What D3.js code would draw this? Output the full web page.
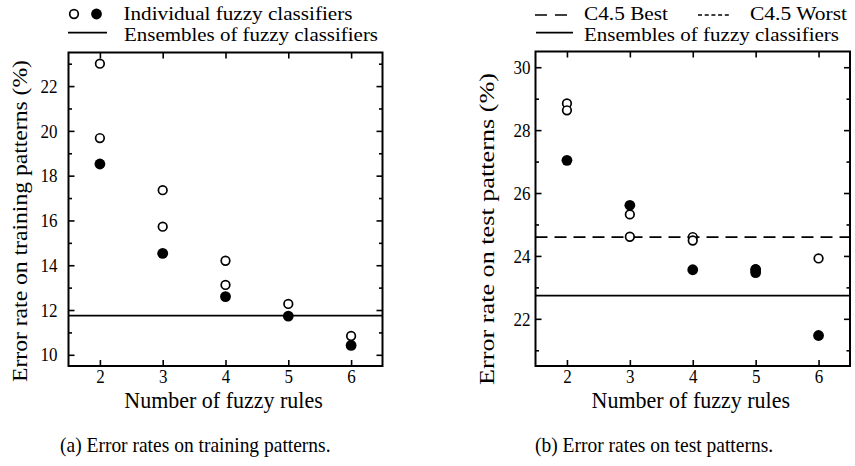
<!DOCTYPE html>
<html><head><meta charset="utf-8">
<script src="https://cdn.jsdelivr.net/npm/d3@7"></script>
<style>body{margin:0;background:#fff}</style></head><body>
<svg id="c" width="855" height="466" xmlns="http://www.w3.org/2000/svg"></svg>
<script>
// ---- data ----
const rules = [2, 3, 4, 5, 6];
const trainOpenRules = [2, 2, 3, 3, 4, 4, 5, 6];
const trainOpenErr   = [23.0, 19.68, 17.35, 15.72, 14.2, 13.12, 12.27, 10.84];
const trainFilledRules = [2, 3, 4, 5, 6];
const trainFilledErr   = [18.52, 14.53, 12.6, 11.73, 10.42];
const trainEnsemble = 11.75;

const testOpenRules = [2, 2, 3, 3, 4, 4, 5, 6];
const testOpenErr   = [28.85, 28.63, 25.32, 24.61, 24.6, 24.49, 23.58, 23.92];
const testFilledRules = [2, 3, 4, 5, 5, 6];
const testFilledErr   = [27.04, 25.61, 23.56, 23.56, 23.47, 21.47];
const testEnsemble = 22.74;
const c45Best = 24.6;
const c45Worst = 31.2; // above the visible range

const trainMajor = [10, 12, 14, 16, 18, 20, 22];
const trainMinor = [11, 13, 15, 17, 19, 21, 23];
const testMajor = [22, 24, 26, 28, 30];
const testMinor = [21, 23, 25, 27, 29];

const xLabel = "Number of fuzzy rules";
const trainYLabel = "Error rate on training patterns (%)";
const testYLabel = "Error rate on test patterns (%)";
const captionA = "(a) Error rates on training patterns.";
const captionB = "(b) Error rates on test patterns.";

// ---- drawing ----
const svg = d3.select('#c');
const FONT = '"Liberation Serif","Times New Roman",Times,serif';
const VS = 1.1;

function txt(x, y, s, size, anchor, vs, len) {
  const t = svg.append('text')
    .attr('transform', `translate(${x},${y}) scale(1,${vs == null ? VS : vs})`)
    .attr('font-family', FONT).attr('font-size', size)
    .attr('text-anchor', anchor || 'start').attr('fill', '#000').text(s);
  if (len) t.attr('textLength', len).attr('lengthAdjust', 'spacingAndGlyphs');
  return t;
}

function panel(cfg) {
  const x = d3.scaleLinear().domain([1.5, 6.5]).range([cfg.x0, cfg.x1]);
  const y = d3.scaleLinear().domain(cfg.yDomain).range([cfg.y1, cfg.y0]);
  const g = svg.append('g');
  const clipId = 'clip' + cfg.id;
  svg.append('clipPath').attr('id', clipId).append('rect')
    .attr('x', cfg.x0).attr('y', cfg.y0).attr('width', cfg.x1 - cfg.x0).attr('height', cfg.y1 - cfg.y0);

  function styleAxis(sel, withText) {
    sel.attr('font-family', FONT);
    sel.select('.domain').remove();
    sel.selectAll('.tick line').attr('stroke', '#000').attr('stroke-width', 1.6);
    sel.selectAll('.tick text').attr('font-family', FONT).attr('font-size', 17).attr('fill', '#000');
    if (!withText) sel.selectAll('.tick text').remove();
  }
  // left
  g.append('g').attr('transform', `translate(${cfg.x0},0)`)
    .call(d3.axisLeft(y).tickValues(cfg.major).tickSize(-6).tickPadding(cfg.yPad).tickFormat(d3.format('d')))
    .call(s => styleAxis(s, true))
    .call(s => s.selectAll('.tick text').attr('transform', `scale(1,${VS})`).attr('dy', '0.33em'));
  g.append('g').attr('transform', `translate(${cfg.x0},0)`)
    .call(d3.axisLeft(y).tickValues(cfg.minor).tickSize(-3.5).tickFormat(''))
    .call(s => styleAxis(s, false));
  // right
  g.append('g').attr('transform', `translate(${cfg.x1},0)`)
    .call(d3.axisRight(y).tickValues(cfg.major).tickSize(-6).tickFormat(''))
    .call(s => styleAxis(s, false));
  g.append('g').attr('transform', `translate(${cfg.x1},0)`)
    .call(d3.axisRight(y).tickValues(cfg.minor).tickSize(-3.5).tickFormat(''))
    .call(s => styleAxis(s, false));
  // bottom
  g.append('g').attr('transform', `translate(0,${cfg.y1})`)
    .call(d3.axisBottom(x).tickValues(rules).tickSize(-6).tickPadding(3).tickFormat(d3.format('d')))
    .call(s => styleAxis(s, true))
    .call(s => s.selectAll('.tick text').attr('transform', `scale(1,${VS})`));
  // top
  g.append('g').attr('transform', `translate(0,${cfg.y0})`)
    .call(d3.axisTop(x).tickValues(rules).tickSize(-6).tickFormat(''))
    .call(s => styleAxis(s, false));

  const plot = g.append('g').attr('clip-path', `url(#${clipId})`);
  // reference lines
  cfg.lines.forEach(l => {
    plot.append('line').attr('x1', cfg.x0).attr('x2', cfg.x1)
      .attr('y1', y(l.v)).attr('y2', y(l.v))
      .attr('stroke', '#000').attr('stroke-width', 1.7)
      .attr('stroke-dasharray', l.dash || null);
  });
  // open circles
  plot.selectAll('circle.o').data(cfg.openX.map((r, i) => [r, cfg.openY[i]])).enter()
    .append('circle').attr('class', 'o')
    .attr('cx', d => x(d[0])).attr('cy', d => y(d[1])).attr('r', 4.3)
    .attr('fill', '#fff').attr('stroke', '#000').attr('stroke-width', 1.7);
  // filled circles
  plot.selectAll('circle.f').data(cfg.fillX.map((r, i) => [r, cfg.fillY[i]])).enter()
    .append('circle').attr('class', 'f')
    .attr('cx', d => x(d[0])).attr('cy', d => y(d[1])).attr('r', 5.4)
    .attr('fill', '#000');
  // frame
  g.append('rect').attr('x', cfg.x0).attr('y', cfg.y0)
    .attr('width', cfg.x1 - cfg.x0).attr('height', cfg.y1 - cfg.y0)
    .attr('fill', 'none').attr('stroke', '#000').attr('stroke-width', 2);

  // x label
  txt((cfg.x0 + cfg.x1) / 2 - 2, 408, xLabel, 22, 'middle', 1.05);
  // y label
  svg.append('text')
    .attr('transform', `translate(${cfg.ylx},${cfg.yly}) rotate(-90)`)
    .attr('font-family', FONT).attr('font-size', cfg.ylSize)
    .attr('text-anchor', 'middle').attr('fill', '#000')
    .attr('textLength', cfg.ylLen).attr('lengthAdjust', 'spacingAndGlyphs')
    .text(cfg.yLabel);
}

panel({
  id: 'a', x0: 68.5, x1: 382.5, y0: 52.5, y1: 366, yDomain: [9.5, 23.5],
  major: trainMajor, minor: trainMinor, yPad: 11,
  lines: [{ v: trainEnsemble }],
  openX: trainOpenRules, openY: trainOpenErr, fillX: trainFilledRules, fillY: trainFilledErr,
  yLabel: trainYLabel, ylx: 27, yly: 221, ylSize: 21, ylLen: 322
});
panel({
  id: 'b', x0: 535.5, x1: 850, y0: 51.5, y1: 366, yDomain: [20.5, 30.5],
  major: testMajor, minor: testMinor, yPad: 5,
  lines: [{ v: testEnsemble }, { v: c45Best, dash: '12,7' }, { v: c45Worst, dash: '4,2.5' }],
  openX: testOpenRules, openY: testOpenErr, fillX: testFilledRules, fillY: testFilledErr,
  yLabel: testYLabel, ylx: 494, yly: 229, ylSize: 21, ylLen: 312
});

// ---- legends ----
const LF = 18.8;
// left
svg.append('circle').attr('cx', 74).attr('cy', 14).attr('r', 4.3)
  .attr('fill', '#fff').attr('stroke', '#000').attr('stroke-width', 1.7);
svg.append('circle').attr('cx', 96.5).attr('cy', 14).attr('r', 5.4).attr('fill', '#000');
txt(123.5, 19.5, 'Individual fuzzy classifiers', LF, 'start', 1.0, 229);
svg.append('line').attr('x1', 68).attr('x2', 107).attr('y1', 32.7).attr('y2', 32.7)
  .attr('stroke', '#000').attr('stroke-width', 1.7);
txt(124, 40.5, 'Ensembles of fuzzy classifiers', LF, 'start', 1.0, 254);
// right
svg.append('line').attr('x1', 535).attr('x2', 567).attr('y1', 15).attr('y2', 15)
  .attr('stroke', '#000').attr('stroke-width', 1.7).attr('stroke-dasharray', '12,8');
txt(584, 20, 'C4.5 Best', LF, 'start', 1.0, 84);
svg.append('line').attr('x1', 698).attr('x2', 729).attr('y1', 15).attr('y2', 15)
  .attr('stroke', '#000').attr('stroke-width', 1.7).attr('stroke-dasharray', '4,2.7');
txt(750, 20, 'C4.5 Worst', LF, 'start', 1.0, 97);
svg.append('line').attr('x1', 536).attr('x2', 573).attr('y1', 32.7).attr('y2', 32.7)
  .attr('stroke', '#000').attr('stroke-width', 1.7);
txt(584, 40.5, 'Ensembles of fuzzy classifiers', LF, 'start', 1.0, 255);

// ---- captions ----
txt(60, 452, captionA, 19.5, 'start');
txt(535, 452, captionB, 19.5, 'start');
</script>
</body></html>
